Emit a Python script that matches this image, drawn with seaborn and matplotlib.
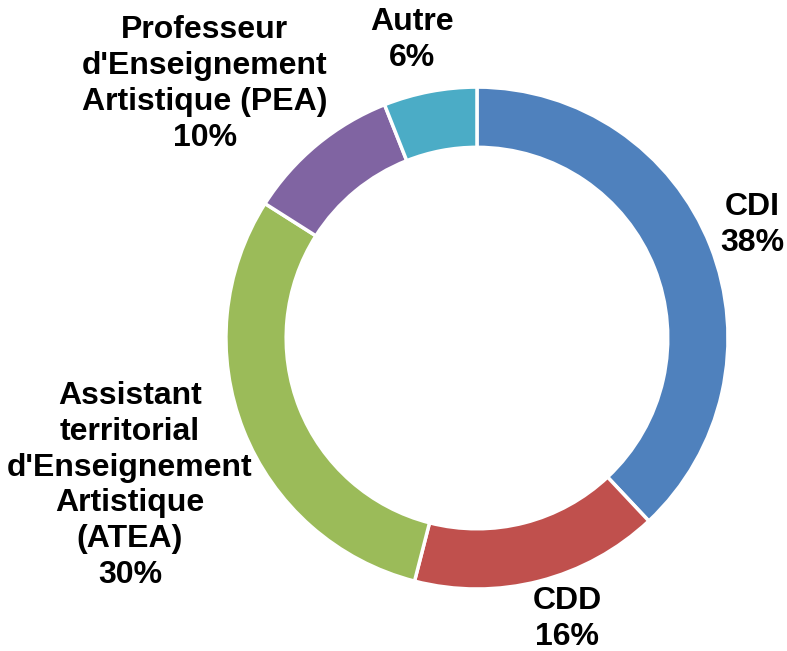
import numpy as np
import matplotlib
matplotlib.use("Agg")
import matplotlib.pyplot as plt
import seaborn as sns

labels = ["CDI", "CDD",
          "Assistant\nterritorial\nd'Enseignement\nArtistique\n(ATEA)",
          "Professeur\nd'Enseignement\nArtistique (PEA)",
          "Autre"]
shares = [38, 16, 30, 10, 6]
colors = ["#4F81BD", "#C0504D", "#9BBB59", "#8064A2", "#4BACC6"]
# label anchor positions (units of outer radius, pie centre = 0,0)
label_xy = [(1.096, 0.450), (0.359, -1.120), (-1.382, -0.588),
            (-1.084, 1.012), (-0.259, 1.187)]

sns.set_theme(style="white")
plt.rcParams['font.family'] = ['Liberation Sans', 'DejaVu Sans']

fig = plt.figure(figsize=(7.87, 6.51), dpi=100)
ax = fig.add_axes([0, 0, 1, 1])

wedges, _ = ax.pie(shares, colors=colors, startangle=90, counterclock=False,
                   radius=1.0,
                   wedgeprops=dict(width=0.24, edgecolor='white', linewidth=2.5))

for lab, pct, (x, y) in zip(labels, shares, label_xy):
    ax.text(x, y, f"{lab}\n{pct}%",
            ha='center', va='center', fontsize=23, fontweight='bold',
            color='black', linespacing=1.25)

ax.set_xlim(-1.900, 1.235)
ax.set_ylim(-1.247, 1.347)
ax.set_aspect('auto')
ax.axis('off')

fig.savefig('out.png', dpi=100, facecolor='white')
